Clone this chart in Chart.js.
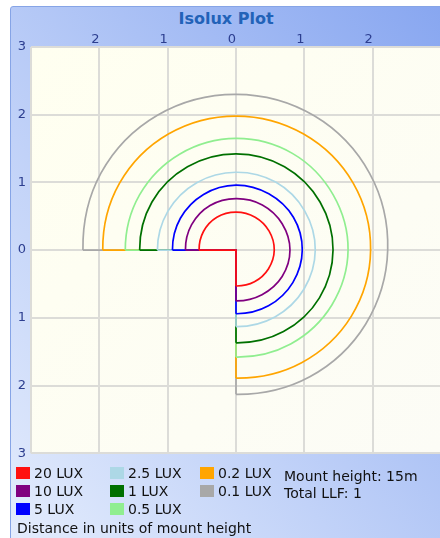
<!DOCTYPE html>
<html>
<head>
<meta charset="utf-8">
<script src="https://cdn.jsdelivr.net/npm/chart.js@4.4.1/dist/chart.umd.min.js"></script>
<style>
body{margin:0;background:#fff;overflow:hidden;width:440px;height:538px;position:relative;font-family:"DejaVu Sans",sans-serif;}
#frame{position:absolute;left:10px;top:6px;width:450px;height:560px;border:1px solid #86a4e6;border-radius:3px;background:linear-gradient(to bottom left,#86a5f0,#e6eefd);}
#title{position:absolute;left:0;width:452px;top:9px;text-align:center;font-weight:bold;font-size:16px;color:#2262b8;}
#c{position:absolute;left:0;top:0;}
.lg{position:absolute;font-size:14px;line-height:16px;color:#111;white-space:nowrap;}
.sw{position:absolute;width:14px;height:12px;}
</style>
</head>
<body>
<div id="frame"></div>
<div id="title">Isolux Plot</div>
<canvas id="c" width="452" height="466"></canvas>
<div id="legend"></div>
<script>
// contour radii (units of mount height) read at these angles, degrees
var angles = [180, 150, 120, 90, 60, 30, 0, -30, -60, -90];

var r20  = [0.54, 0.55, 0.56, 0.56, 0.56, 0.56, 0.56, 0.55, 0.54, 0.53];
var r10  = [0.74, 0.75, 0.76, 0.76, 0.77, 0.78, 0.79, 0.78, 0.76, 0.75];
var r5   = [0.93, 0.94, 0.95, 0.96, 0.96, 0.97, 0.97, 0.96, 0.95, 0.94];
var r2_5 = [1.15, 1.15, 1.15, 1.15, 1.16, 1.16, 1.16, 1.15, 1.14, 1.13];
var r1   = [1.41, 1.42, 1.42, 1.42, 1.42, 1.42, 1.42, 1.41, 1.39, 1.37];
var r0_5 = [1.62, 1.63, 1.64, 1.65, 1.65, 1.64, 1.64, 1.62, 1.60, 1.58];
var r0_2 = [1.95, 1.97, 1.98, 1.98, 1.98, 1.98, 1.97, 1.95, 1.92, 1.89];
var r0_1 = [2.24, 2.28, 2.30, 2.30, 2.29, 2.26, 2.22, 2.19, 2.16, 2.13];

var luxLabels = ['20 LUX', '10 LUX', '5 LUX', '2.5 LUX', '1 LUX', '0.5 LUX', '0.2 LUX', '0.1 LUX'];
var luxColors = ['#ff1010', '#800080', '#0000ff', '#add8e6', '#007000', '#90ee90', '#ffa500', '#a8a8a8'];
var radii = [r20, r10, r5, r2_5, r1, r0_5, r0_2, r0_1];

var xTickValues = [-3, -2, -1, 0, 1, 2, 3];
var xTickLabels = ['', '2', '1', '0', '1', '2', ''];
var yTickValues = [-3, -2, -1, 0, 1, 2, 3];
var yTickLabels = ['3', '2', '1', '0', '1', '2', '3'];

var infoLines = ['Mount height: 15m', 'Total LLF: 1'];
var footText = 'Distance in units of mount height';

// legend (html)
var legendPos = [[16,473],[16,491],[16,509],[110,473],[110,491],[110,509],[200,473],[200,491]];
var lg = document.getElementById('legend');
var html = '';
for (var i = 0; i < luxLabels.length; i++) {
  var p = legendPos[i];
  html += '<div class="sw" style="left:' + p[0] + 'px;top:' + (p[1]-6) + 'px;background:' + luxColors[i] + '"></div>';
  html += '<div class="lg" style="left:' + (p[0]+18) + 'px;top:' + (p[1]-8) + 'px">' + luxLabels[i] + '</div>';
}
html += '<div class="lg" style="left:284px;top:468px">' + infoLines[0] + '</div>';
html += '<div class="lg" style="left:284px;top:485px">' + infoLines[1] + '</div>';
html += '<div class="lg" style="left:17px;top:520px">' + footText + '</div>';
lg.innerHTML = html;

function polar(rad, deg) {
  var a = deg * Math.PI / 180;
  return {x: rad * Math.cos(a), y: rad * Math.sin(a)};
}

// datasets: arc + straight legs for each contour, first one drawn on top
// the arc gets one hidden guide point at each end so the spline leaves the ends tangentially
var datasets = [];
for (var k = 0; k < radii.length; k++) {
  var r = radii[k];
  var n = r.length;
  var arc = [polar(r[0], angles[0] + 30)];
  for (var j = 0; j < n; j++) arc.push(polar(r[j], angles[j]));
  arc.push(polar(r[n-1], angles[n-1] - 30));
  var last = arc.length - 1;
  datasets.push({
    label: luxLabels[k], data: arc, showLine: true, tension: 0.35,
    borderColor: luxColors[k], borderWidth: 1.7, pointRadius: 0, fill: false,
    segment: {
      borderColor: function(ctx) {
        return (ctx.p0DataIndex === 0 || ctx.p1DataIndex === ctx.chart.data.datasets[ctx.datasetIndex].data.length - 1) ? 'rgba(0,0,0,0)' : undefined;
      }
    }
  });
  datasets.push({
    label: luxLabels[k], data: [{x: 0, y: -r[n-1]}, {x: 0, y: 0}, {x: -r[0], y: 0}],
    showLine: true, tension: 0,
    borderColor: luxColors[k], borderWidth: 1.7, pointRadius: 0, fill: false
  });
}

var plotBg = {
  id: 'plotBg',
  beforeDraw: function(chart) {
    var ca = chart.chartArea, ctx = chart.ctx;
    var g = ctx.createLinearGradient(ca.left, ca.top, ca.right, ca.bottom);
    g.addColorStop(0, '#fffff0');
    g.addColorStop(1, '#fcfcf6');
    ctx.save();
    ctx.fillStyle = g;
    ctx.fillRect(ca.left, ca.top, ca.right - ca.left, ca.bottom - ca.top);
    ctx.restore();
  }
};

var tickFont = {family: 'DejaVu Sans', size: 13};
var tickColor = '#2c3e90';

new Chart(document.getElementById('c'), {
  type: 'scatter',
  data: {datasets: datasets},
  plugins: [plotBg],
  options: {
    responsive: false,
    animation: false,
    devicePixelRatio: 1,
    layout: {padding: {left: 0, top: 0, right: 11, bottom: 9}},
    plugins: {legend: {display: false}, tooltip: {enabled: false}},
    scales: {
      x: {
        type: 'linear', position: 'top', min: -3, max: 3,
        afterBuildTicks: function(s) { s.ticks = xTickValues.map(function(v){ return {value: v}; }); },
        afterFit: function(s) { s.height = 47; },
        ticks: {
          callback: function(v, i) { return xTickLabels[i]; },
          color: tickColor, font: tickFont, padding: 0, labelOffset: -4,
          maxRotation: 0, autoSkip: false
        },
        grid: {color: '#dcdcd8', lineWidth: 2, drawTicks: false},
        border: {display: false}
      },
      y: {
        type: 'linear', position: 'left', min: -3, max: 3,
        afterBuildTicks: function(s) { s.ticks = yTickValues.map(function(v){ return {value: v}; }); },
        afterFit: function(s) { s.width = 31; },
        ticks: {
          callback: function(v, i) { return yTickLabels[i]; },
          color: tickColor, font: tickFont, padding: 5, autoSkip: false
        },
        grid: {color: '#dcdcd8', lineWidth: 2, drawTicks: false},
        border: {display: false}
      }
    }
  }
});
</script>
</body>
</html>
